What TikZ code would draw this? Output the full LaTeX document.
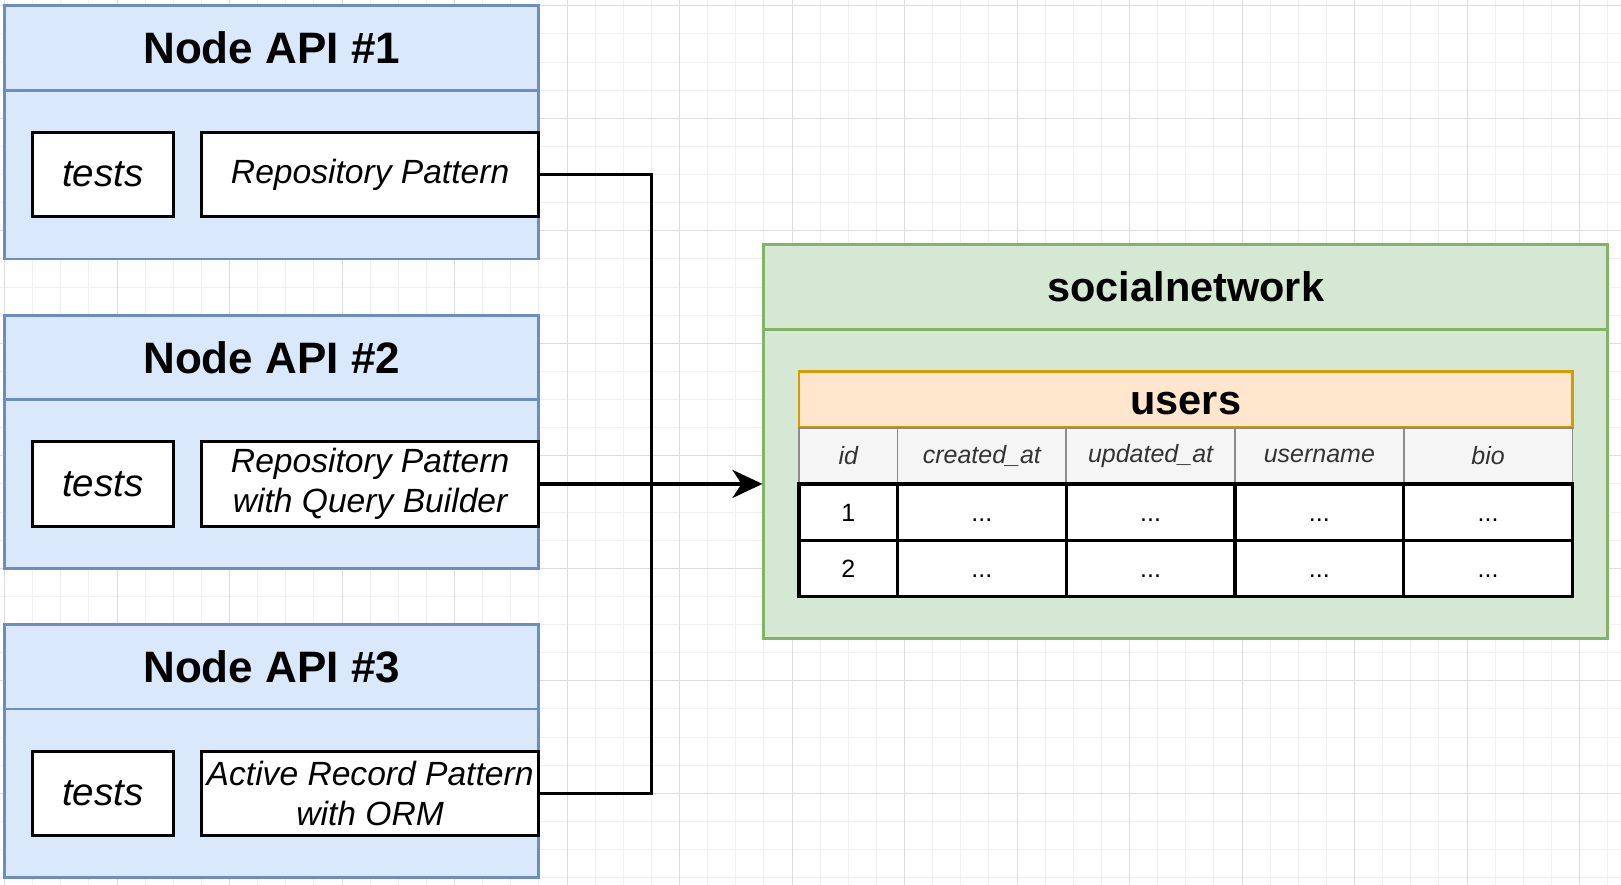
\documentclass[tikz,border=0pt]{standalone}
\usepackage{fontspec}
\setmainfont{Liberation Sans}
\usetikzlibrary{arrows.meta}

\definecolor{apifill}{HTML}{DAE8FC}
\definecolor{apiline}{HTML}{6C8EBF}
\definecolor{dbfill}{HTML}{D5E8D4}
\definecolor{dbline}{HTML}{82B366}
\definecolor{tblfill}{HTML}{FFE6CC}
\definecolor{tblline}{HTML}{D79B00}
\definecolor{colfill}{HTML}{F5F5F5}
\definecolor{colline}{HTML}{8C8C8C}
\definecolor{coltext}{HTML}{333333}
\definecolor{gridlo}{HTML}{F0F0F0}
\definecolor{gridhi}{HTML}{DCDCDC}

\newcommand{\gu}{2.8125pt}
\newcommand{\apititle}{\bfseries\fontsize{44}{50}\selectfont}
\newcommand{\testfont}{\itshape\fontsize{38.5}{44}\selectfont}
\newcommand{\itemfont}{\itshape\fontsize{33.6}{40}\selectfont}
\newcommand{\dbtitle}{\bfseries\fontsize{41.5}{48}\selectfont}
\newcommand{\colfont}{\itshape\fontsize{25}{30}\selectfont}
\newcommand{\cellfont}{\fontsize{25}{30}\selectfont}

\tikzset{
  apibox/.style={draw=apiline, fill=apifill, line width=2.8pt, inner sep=0pt,
                 minimum width=190*\gu, minimum height=90*\gu},
  apihead/.style={apibox, font=\apititle, minimum height=30*\gu},
  testbox/.style={draw=black, fill=white, line width=3.2pt, inner sep=0pt, font=\testfont,
                  minimum width=50*\gu, minimum height=30*\gu},
  itembox/.style={testbox, align=center, font=\itemfont, minimum width=120*\gu},
  dbbox/.style={draw=dbline, fill=dbfill, line width=2.8pt, inner sep=0pt,
                minimum width=300*\gu, minimum height=140*\gu},
  dbhead/.style={dbbox, font=\dbtitle, minimum height=30*\gu},
  tblhead/.style={draw=tblline, fill=tblfill, line width=2.8pt, inner sep=0pt, font=\dbtitle,
                  minimum width=275*\gu, minimum height=20*\gu, text height=30pt, text depth=0pt},
  colhead/.style={draw=colline, fill=colfill, line width=1.8pt, inner sep=0pt, text=coltext,
                  font=\colfont, minimum height=20*\gu},
  cell/.style={draw=black, fill=white, line width=3.2pt, inner sep=0pt, font=\cellfont,
               minimum height=20*\gu, text height=18pt, text depth=0pt},
  link/.style={draw=black, line width=3.2pt},
  flow/.style={link, -{Stealth[length=30pt,width=28pt,inset=9pt]}},
  gridminor/.style={draw=gridlo, line width=1pt},
  gridmajor/.style={draw=gridhi, line width=1pt}
}

\begin{document}
\begin{tikzpicture}[x=\gu,y=-\gu]
    \useasboundingbox[fill=white] (-1.6,-2.062) rectangle (574.76,312.6);
    % background grid
    \foreach \gx in {0,10,...,570}
        \draw[gridminor] (\gx,-2.062) -- (\gx,312.6);
    \foreach \gy in {0,10,...,310}
        \draw[gridminor] (-1.6,\gy) -- (574.76,\gy);
    \foreach \gx in {0,40,...,560}
        \draw[gridmajor] (\gx,-2.062) -- (\gx,312.6);
    \foreach \gy in {0,40,...,280}
        \draw[gridmajor] (-1.6,\gy) -- (574.76,\gy);

    % the three node apis
    \foreach \i/\y/\txt in {1/0/{Repository Pattern},
                            2/110/{Repository Pattern\\with Query Builder},
                            3/220/{Active Record Pattern\\with ORM}} {
        \node[apibox] (api\i) at (95,\y+45) {};
        \node[apihead] (head\i) at (95,\y+15) {Node API \#\i};
        \node[testbox] (tests\i) at (35,\y+60) {tests};
        \node[itembox] (repo\i) at (130,\y+60) {\txt};
    }

    % database
    \node[dbbox] (db) at (420,155) {};
    \node[dbhead] (dbname) at (420,100) {socialnetwork};
    \node[tblhead] (users) at (420,140) {users};
    \foreach \c/\cx/\w/\txt in {id/300/35/id, cr/347.5/60/created\_at,
                                up/407.5/60/updated\_at, us/467.5/60/username,
                                bi/527.5/60/bio}
        \node[colhead, minimum width=\w*\gu] (col-\c) at (\cx,160) {\txt};
    \foreach \r/\ry in {1/180, 2/200} {
        \node[cell, minimum width=35*\gu] (id\r) at (300,\ry) {\r};
        \foreach \c/\cx in {cr/347.5, up/407.5, us/467.5, bi/527.5}
            \node[cell, minimum width=60*\gu] (\c\r) at (\cx,\ry) {...};
    }

    % connectors
    \coordinate (bustop) at (230,60);
    \coordinate (busbot) at (230,280);
    \draw[link] (repo1.east) -- (bustop) -- (busbot) -- (repo3.east);
    \draw[flow] (repo2.east) -- (repo2.east -| db.west);
\end{tikzpicture}
\end{document}
